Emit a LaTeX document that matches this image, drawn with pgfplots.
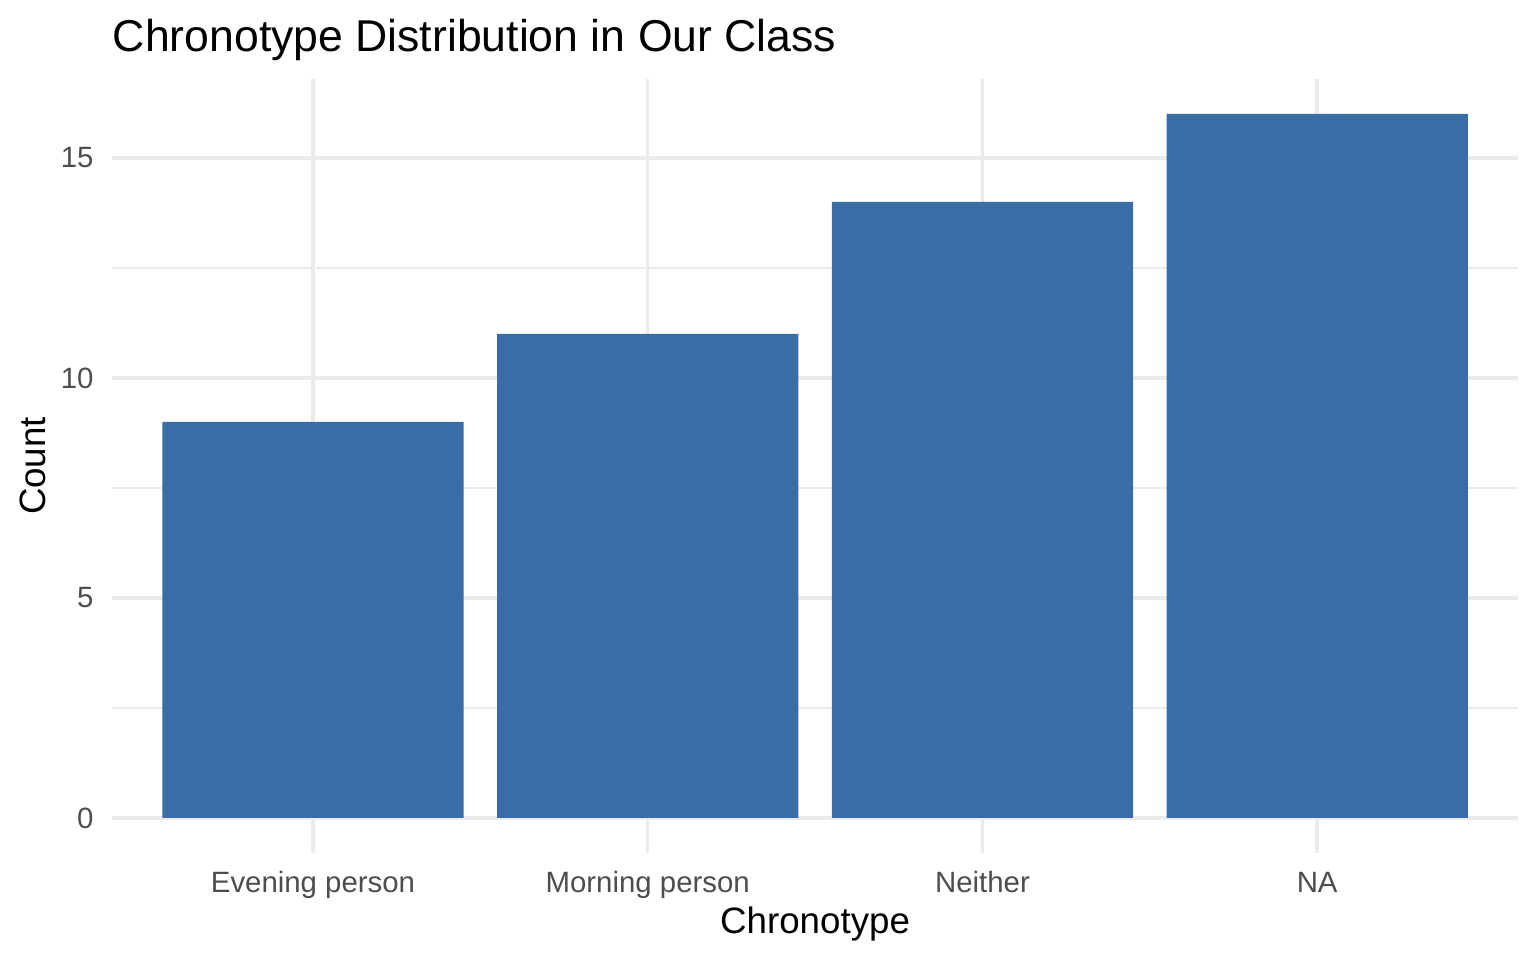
\documentclass[border=0pt]{standalone}
\usepackage{fontspec}
\setmainfont{Liberation Sans}
\usepackage{pgfplots}
\pgfplotsset{compat=1.18}

\definecolor{barblue}{HTML}{3A6DA5}
\definecolor{gridgray}{HTML}{EBEBEB}
\definecolor{tickgray}{HTML}{4D4D4D}

\begin{document}
\begin{tikzpicture}
% fixed page: 460pt x 287.5pt, panel lower-left at origin
\useasboundingbox (-33.6pt,-32pt) rectangle (426.4pt,255.5pt);
\begin{axis}[
  scale only axis,
  width=421pt, height=231.9pt,
  xmin=0.4, xmax=4.6,
  ymin=-0.8, ymax=16.8,
  axis line style={draw=none},
  ybar, bar width=0.9,
  xtick={1,2,3,4},
  xticklabels={Evening person, Morning person, Neither, NA},
  ytick={0,5,10,15},
  minor ytick={2.5,7.5,12.5},
  major tick length=0pt, minor tick length=0pt,
  xmajorgrids=true, ymajorgrids=true, yminorgrids=true,
  major grid style={draw=gridgray, line width=1.05pt},
  minor grid style={draw=gridgray, line width=0.55pt},
  /pgf/number format/assume math mode=true,
  tick label style={font=\fontsize{8.8}{10}\selectfont, text=tickgray},
  xticklabel style={anchor=base, inner sep=0pt, yshift=-11.9pt},
  yticklabel style={anchor=east, inner sep=0pt, xshift=-5.4pt},
  title={Chronotype Distribution in Our Class},
  title style={at={(axis description cs:0,1.0099)}, anchor=base west,
    inner sep=0pt, font=\fontsize{13.35}{15}\selectfont},
  xlabel={Chronotype},
  xlabel style={at={(axis description cs:0.5,-0.1031)}, anchor=base,
    inner sep=0pt, font=\fontsize{11}{13}\selectfont},
  ylabel={Count},
  ylabel style={at={(axis description cs:-0.0477,0.5)}, anchor=base,
    inner sep=0pt, font=\fontsize{11}{13}\selectfont},
]
\addplot[fill=barblue, draw=none] coordinates {(1,9) (2,11) (3,14) (4,16)};
\end{axis}
\end{tikzpicture}
\end{document}
